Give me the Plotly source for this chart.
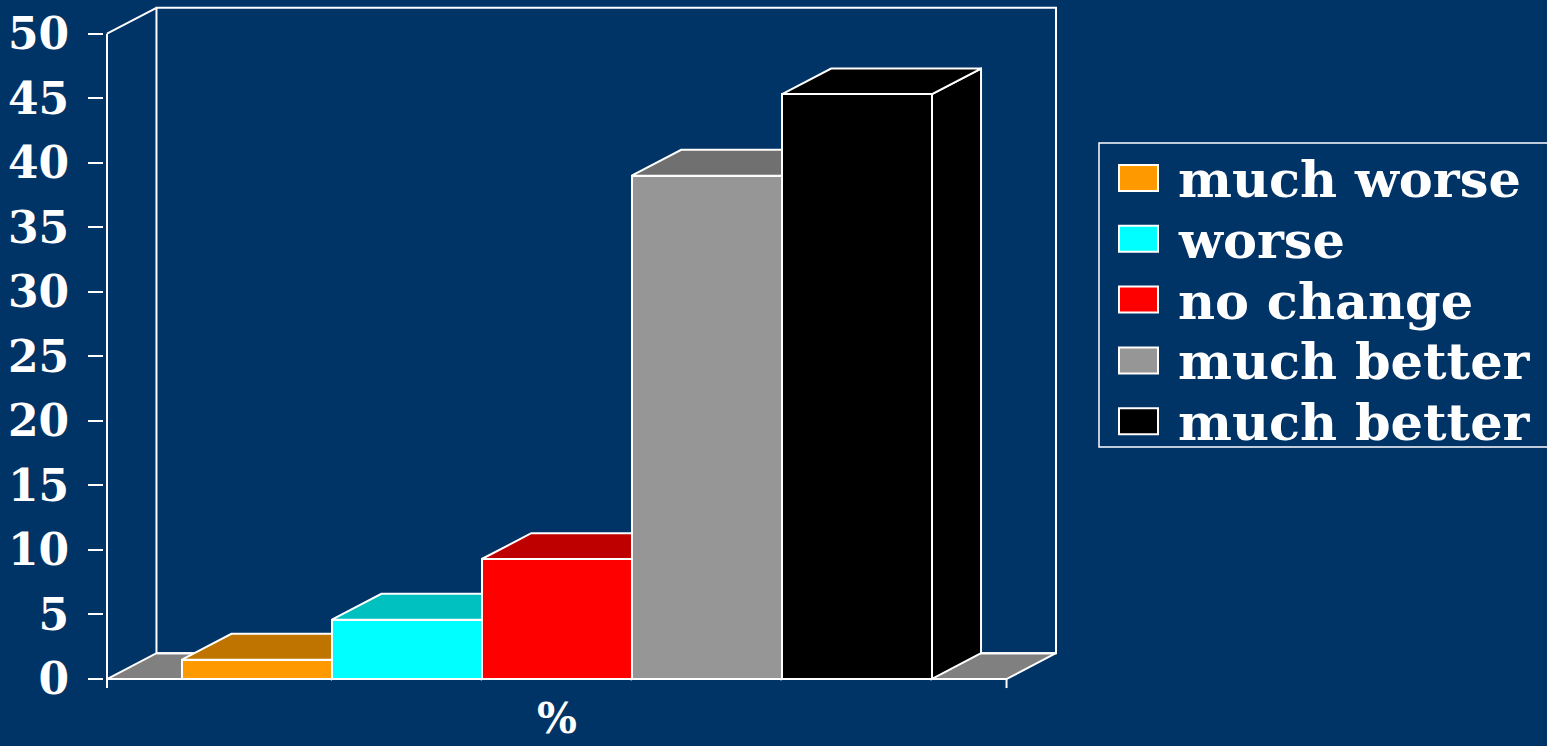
import plotly.graph_objects as go

# ---- data ----
categories = ["much worse", "worse", "no change", "much better", "much better"]
values = [1.5, 4.6, 9.3, 39.0, 45.3]
front_colors = ["#FF9900", "#00FFFF", "#FF0000", "#969696", "#000000"]
top_colors = ["#C07400", "#00C0C0", "#BE0000", "#707070", "#000000"]
side_colors = ["#C07400", "#00C0C0", "#BE0000", "#707070", "#000000"]
ytick_vals = [0, 5, 10, 15, 20, 25, 30, 35, 40, 45, 50]
axis_title = "%"

BG = "#003366"
WHITE = "#FFFFFF"
FONT = "DejaVu Serif"

# pseudo-3D depth (in axis units)
DX = 0.33
DY = 2.0
XL, XR = -1.0, 5.0   # front plane extent
YMAX = 50

W, H = 1547, 746
ML, MR, MT, MB = 104, 488, 4, 56
PLOT_W = W - ML - MR
PLOT_H = H - MT - MB

def px(xp):
    return (xp - ML) / PLOT_W

def py(yp):
    return (H - MB - yp) / PLOT_H

xs = list(range(len(values)))

fig = go.Figure()

shapes = []
# floor
shapes.append(dict(type="path", layer="below", xref="x", yref="y",
                   path=f"M {XL},0 L {XR},0 L {XR+DX},{DY} L {XL+DX},{DY} Z",
                   fillcolor="#808080", line=dict(color=WHITE, width=2)))
# back wall
shapes.append(dict(type="rect", layer="below", xref="x", yref="y",
                   x0=XL + DX, y0=DY, x1=XR + DX, y1=YMAX + DY,
                   fillcolor="rgba(0,0,0,0)", line=dict(color=WHITE, width=2)))
# top and side faces of bars
for x, v, tc, sc in zip(xs, values, top_colors, side_colors):
    x0, x1 = x - 0.5, x + 0.5
    shapes.append(dict(type="path", layer="below", xref="x", yref="y",
                       path=f"M {x1},0 L {x1},{v} L {x1+DX},{v+DY} L {x1+DX},{DY} Z",
                       fillcolor=sc, line=dict(color=WHITE, width=2)))
    shapes.append(dict(type="path", layer="below", xref="x", yref="y",
                       path=f"M {x0},{v} L {x0+DX},{v+DY} L {x1+DX},{v+DY} L {x1},{v} Z",
                       fillcolor=tc, line=dict(color=WHITE, width=2)))
# front axis lines
shapes.append(dict(type="line", layer="above", xref="x", yref="y",
                   x0=XL, y0=-0.7, x1=XL, y1=YMAX, line=dict(color=WHITE, width=2)))
shapes.append(dict(type="line", layer="above", xref="x", yref="y",
                   x0=XL, y0=0, x1=XR, y1=0, line=dict(color=WHITE, width=2)))
shapes.append(dict(type="line", layer="above", xref="x", yref="y",
                   x0=XR, y0=0, x1=XR, y1=-0.7, line=dict(color=WHITE, width=2)))
shapes.append(dict(type="line", layer="below", xref="x", yref="y",
                   x0=XL, y0=YMAX, x1=XL + DX, y1=YMAX + DY, line=dict(color=WHITE, width=2)))

fig.add_trace(go.Bar(
    x=xs, y=values, width=1.0,
    marker=dict(color=front_colors, line=dict(color=WHITE, width=2)),
    showlegend=False, hovertext=categories,
))

# custom legend
annotations = []
shapes.append(dict(type="rect", xref="paper", yref="paper",
                   x0=px(1099), x1=px(1552), y0=py(447), y1=py(143),
                   fillcolor="rgba(0,0,0,0)", line=dict(color=WHITE, width=1.5)))
row0, step = 178, 60.8
for i, (name, col) in enumerate(zip(categories, front_colors)):
    cy = row0 + i * step
    shapes.append(dict(type="rect", xref="paper", yref="paper",
                       x0=px(1119), x1=px(1158), y0=py(cy + 13), y1=py(cy - 13),
                       fillcolor=col, line=dict(color=WHITE, width=2)))
    annotations.append(dict(xref="paper", yref="paper", x=px(1176), y=py(cy + 1),
                            xanchor="left", yanchor="middle", showarrow=False,
                            text=name,
                            font=dict(family=FONT, size=51, color=WHITE, weight="bold")))

annotations.append(dict(xref="x", yref="paper", x=(XL + XR) / 2, y=py(745),
                        xanchor="center", yanchor="bottom", showarrow=False,
                        text=axis_title,
                        font=dict(family=FONT, size=42, color=WHITE, weight="bold")))

fig.update_layout(
    width=W, height=H,
    paper_bgcolor=BG, plot_bgcolor=BG,
    margin=dict(l=ML, r=MR, t=MT, b=MB),
    shapes=shapes, annotations=annotations,
    bargap=0,
    xaxis=dict(range=[-1.02, 5.35], showticklabels=False, showgrid=False,
               zeroline=False, ticks="", showline=False, fixedrange=True),
    yaxis=dict(range=[-0.85, 52.3], tickvals=ytick_vals, showgrid=False,
               zeroline=False, showline=False, ticks="outside", ticklen=15,
               tickwidth=2, tickcolor=WHITE, ticklabelstandoff=10,
               tickfont=dict(family=FONT, size=44, color=WHITE, weight="bold")),
)

fig.write_html("out.html", config={"displayModeBar": False},
               post_script="document.body.style.margin='0';document.body.style.overflow='hidden';")
